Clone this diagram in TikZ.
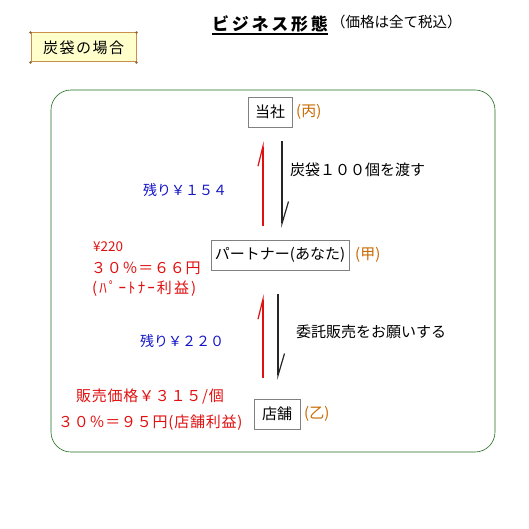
\documentclass[tikz,border=0pt]{standalone}
\usepackage{fontspec}
\setmainfont{Noto Sans CJK JP}
\usetikzlibrary{arrows.meta,calc}
\definecolor{bizgreen}{HTML}{1E6E1E}
\definecolor{bizblue}{HTML}{1414C8}
\definecolor{bizred}{HTML}{E01010}
\definecolor{bizorange}{HTML}{C86A00}
\definecolor{bizgray}{HTML}{808080}
\definecolor{bizcream}{HTML}{FFFFCC}
\definecolor{bizbrown}{HTML}{C8904A}
\tikzset{
  party/.style={draw=bizgray,fill=white,semithick,inner sep=0pt,minimum height=30pt,font=\fontsize{15}{17}\selectfont},
  txt/.style={inner sep=0pt,anchor=west,font=\fontsize{15}{17}\selectfont},
  bluetxt/.style={txt,text=bizblue,font=\fontsize{14}{16}\selectfont},
  redtxt/.style={txt,text=bizred,font=\fontsize{15}{17}\selectfont\addfontfeature{LetterSpace=5}},
  role/.style={txt,text=bizorange},
  pay/.style={draw=bizred,line width=1.2pt,-{Straight Barb[left,length=20pt,width=10pt,line width=1.2pt]}},
  ship/.style={draw=black!85,line width=1.2pt,-{Straight Barb[left,length=22pt,width=13pt,line width=1.2pt]}},
}
\begin{document}
\begin{tikzpicture}[x=1pt,y=-1pt]
  \useasboundingbox (0,0) rectangle (529,529);
  % title
  \node[txt,font=\fontsize{17}{19}\selectfont\bfseries\addfontfeature{LetterSpace=16}] (title) at (212,24) {ビジネス形態};
  \draw[line width=1.5pt] ([yshift=-1.5pt]title.south west) -- ([yshift=-1.5pt]title.south east);
  \node[txt,font=\fontsize{14.5}{16}\selectfont] (tax) at (331,22) {（価格は全て税込）};
  % case label
  \node[draw=bizbrown,fill=bizcream,line width=1pt,minimum width=105pt,minimum height=29pt,inner sep=0pt,
        font=\fontsize{15}{17}\selectfont\addfontfeature{LetterSpace=10}] (case) at (83.5,47.5) {炭袋の場合};
  \foreach \c in {north west,north east,south west,south east}
    \fill[bizbrown!70!black] (case.\c) circle (1.3pt);
  % frame
  \draw[bizgreen,semithick,rounded corners=20pt] (51,90) rectangle (495,452);
  % parties
  \node[party,minimum width=44pt] (tousha) at (270,112) {当社};
  \node[role] (hei) at (296,112) {(丙)};
  \node[party,minimum width=138pt] (partner) at (280,255) {パートナー(あなた)};
  \node[role] (kou) at (355,255) {(甲)};
  \node[party,minimum width=46pt] (tenpo) at (277,414) {店舗};
  \node[role] (otsu) at (304,414) {(乙)};
  % arrow columns
  \coordinate (payA) at (263,0);
  \coordinate (shipA) at (282,0);
  \coordinate (payB) at (263,0);
  \coordinate (shipB) at (278,0);
  \draw[pay,shorten <=14pt,shorten >=14pt] (partner.north -| payA) -- (tousha.south -| payA);
  \draw[ship,shorten <=14pt,shorten >=12pt] (tousha.south -| shipA) -- (partner.north -| shipA);
  \draw[pay,shorten <=21pt,shorten >=24pt] (tenpo.north -| payB) -- (partner.south -| payB);
  \draw[ship,shorten <=24pt,shorten >=19pt] (partner.south -| shipB) -- (tenpo.north -| shipB);
  % labels
  \node[txt] (watasu) at (290,170) {炭袋１００個を渡す};
  \node[bluetxt] (rest1) at (143,190) {残り￥１５４};
  \node[txt] (irai) at (296,332) {委託販売をお願いする};
  \node[bluetxt] (rest2) at (140,341) {残り￥２２０};
  \node[redtxt,font=\fontsize{13.5}{15}\selectfont] (ppay) at (93,247) {¥220};
  \node[redtxt] (pcalc) at (91,268) {３０％＝６６円};
  \node[redtxt,font=\fontsize{15}{17}\selectfont\addfontfeature{LetterSpace=14}] (pprof) at (92,289) {(ﾊﾟｰﾄﾅｰ利益)};
  \node[redtxt] (price) at (76,397) {販売価格￥３１５/個};
  \node[redtxt] (scalc) at (58,423) {３０％＝９５円(店舗利益)};
\end{tikzpicture}
\end{document}
